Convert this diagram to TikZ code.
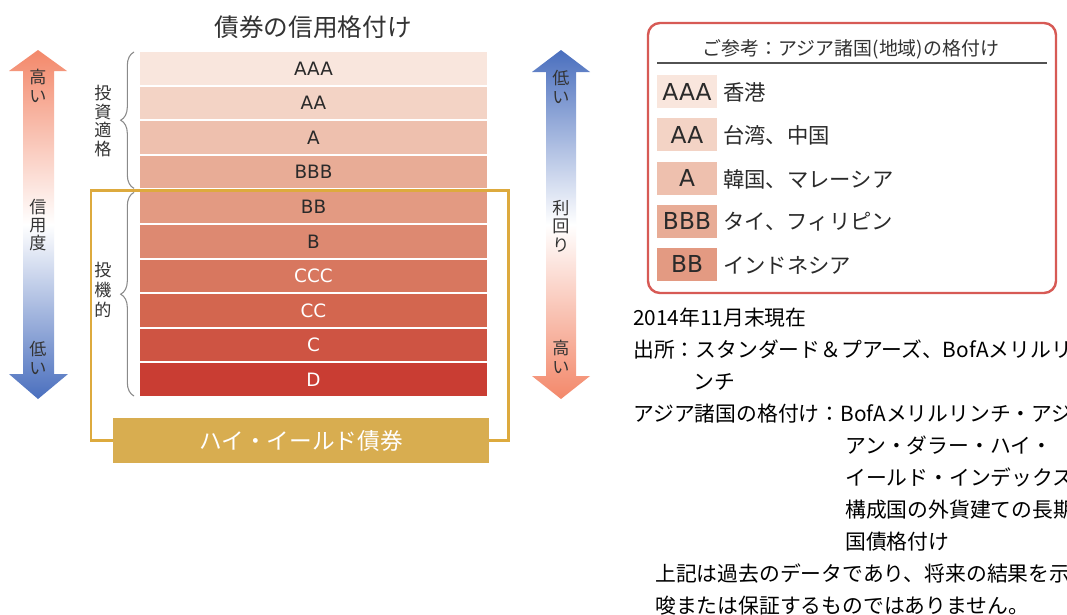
\documentclass[tikz,border=0pt]{standalone}
\usepackage{fontspec}
\setmainfont{DejaVu Sans}
\newfontfamily\jp{Noto Sans CJK JP}
\usetikzlibrary{decorations.pathreplacing}
\definecolor{cAAA}{HTML}{F9E6DD}
\definecolor{cAA}{HTML}{F3D3C5}
\definecolor{cA}{HTML}{EEC0AE}
\definecolor{cBBB}{HTML}{E8AC96}
\definecolor{cBB}{HTML}{E39A82}
\definecolor{cB}{HTML}{DD8971}
\definecolor{cCCC}{HTML}{D8775F}
\definecolor{cCC}{HTML}{D3664F}
\definecolor{cC}{HTML}{CE5443}
\definecolor{cD}{HTML}{C93D33}
\definecolor{txtdark}{HTML}{2A2A2A}
\definecolor{txtgray}{HTML}{333333}
\definecolor{orA}{HTML}{F3886A}
\definecolor{blA}{HTML}{4A6FBE}
\definecolor{goldline}{HTML}{DDAA3E}
\definecolor{goldfill}{HTML}{D8AD50}
\definecolor{legred}{HTML}{D75A55}
\definecolor{bracegray}{HTML}{8A8A8A}
\tikzset{
  ratingbar/.style={minimum width=260.25pt, minimum height=24.45pt, inner sep=0pt, outer sep=0pt,
    font=\fontsize{13.8pt}{16pt}\selectfont},
  vlab/.style={align=center, inner sep=0pt, text=txtgray, font=\jp\fontsize{12.8pt}{13.8pt}\selectfont},
  vlabwide/.style={align=center, inner sep=0pt, text=txtgray, font=\jp\fontsize{12.8pt}{15pt}\selectfont},
  bracedeco/.style={draw=bracegray, line width=0.8pt, decorate, decoration={brace, amplitude=10pt}},
  swatch/.style={minimum width=45pt, minimum height=24.75pt, inner sep=0pt, text=txtdark,
    font=\fontsize{17.5pt}{20pt}\selectfont},
  country/.style={anchor=west, inner sep=0pt, text=txtdark, font=\jp\fontsize{16pt}{18pt}\selectfont},
  note/.style={anchor=base west, inner sep=0pt, text=black, font=\jp\fontsize{15.6pt}{18pt}\selectfont},
}
\begin{document}
\begin{tikzpicture}[x=0.75pt,y=-0.75pt]
\useasboundingbox (0,0) rectangle (1067,614);
\clip (0,0) rectangle (1067,614);
\fill[white] (0,0) rectangle (1067,614);

% title
\node[inner sep=0pt, text=txtgray, font=\jp\fontsize{18.5pt}{20pt}\selectfont] (title) at (313,27) {債券の信用格付け};

% rating bars
\foreach \n/\c/\t [count=\i from 0] in {AAA/cAAA/txtdark, AA/cAA/txtdark, A/cA/txtdark, BBB/cBBB/txtdark, BB/cBB/txtdark, B/cB/txtdark, CCC/cCCC/white, CC/cCC/white, C/cC/white, D/cD/white}
  \node[ratingbar, fill=\c, text=\t] (\n) at (313.5,{52+\i*34.6+16.3}) {\n};

% braces
\draw[bracedeco] ([xshift=-4.5pt]BBB.south west) -- ([xshift=-4.5pt]AAA.north west);
\draw[bracedeco] ([xshift=-4.5pt]D.south west) -- ([xshift=-4.5pt,yshift=-1.5pt]BB.north west);
\node[vlab] (inv) at (103,121) {投\\資\\適\\格};
\node[vlabwide] (spec) at (103,290) {投\\機\\的};

% high yield box and frame
\node[fill=goldfill, minimum width=282pt, minimum height=33.75pt, inner sep=0pt, text=white,
  font=\jp\fontsize{17pt}{18pt}\selectfont] (hy) at (301,440.5) {ハイ・イールド債券};
\coordinate (ftl) at (91,190.5);
\coordinate (ftr) at (508.5,190.5);
\draw[goldline, line width=1.9pt] (hy.west) -| (ftl) -- (ftr) |- (hy.east);

% left arrow
\shade[top color=orA, bottom color=blA, middle color=white]
  (38,50) -- (67,71) -- (54,71) -- (54,374) -- (68,374) -- (38,399) -- (9,374) -- (23,374) -- (23,71) -- (9,71) -- cycle;
\node[vlab] (lhigh) at (38,86) {高\\い};
\node[vlab] (lcred) at (38,225) {信\\用\\度};
\node[vlab] (llow) at (38,358) {低\\い};

% right arrow
\shade[top color=blA, bottom color=orA, middle color=white]
  (561,50) -- (590,72) -- (576,72) -- (576,376) -- (590,376) -- (561,399) -- (532,376) -- (546,376) -- (546,72) -- (532,72) -- cycle;
\node[vlab] (rlow) at (561,87) {低\\い};
\node[vlab] (ryld) at (561,226) {利\\回\\り};
\node[vlab] (rhigh) at (561,357) {高\\い};

% legend
\draw[legred, line width=1.8pt, rounded corners=9pt] (648,23) rectangle (1056,293);
\node[inner sep=0pt, text=txtgray, font=\jp\fontsize{14.2pt}{16pt}\selectfont] (legtitle) at (851,49) {ご参考：アジア諸国(地域)の格付け};
\draw[txtgray!85, line width=1.2pt] (657,63) -- (1047,63);
\node[swatch, fill=cAAA] (sAAA) at (687,91.5) {AAA};
\node[swatch, fill=cAA] (sAA) at (687,134.5) {AA};
\node[swatch, fill=cA] (sA) at (687,178) {A};
\node[swatch, fill=cBBB] (sBBB) at (687,221) {BBB};
\node[swatch, fill=cBB] (sBB) at (687,264) {BB};
\node[country] (tAAA) at (723,92.5) {香港};
\node[country] (tAA) at (723,135.5) {台湾、中国};
\node[country] (tA) at (723,179) {韓国、マレーシア};
\node[country] (tBBB) at (723,222) {タイ、フィリピン};
\node[country] (tBB) at (723,265) {インドネシア};

% notes
\node[note] (n1) at (633,325.7) {2014年11月末現在};
\node[note] (n2) at (633,357.7) {出所：スタンダード＆プアーズ、BofAメリルリ};
\node[note] (n3) at (693,389.7) {ンチ};
\node[note] (n4) at (633,421.7) {アジア諸国の格付け：BofAメリルリンチ・アジ};
\node[note] (n5) at (845,453.7) {アン・ダラー・ハイ・};
\node[note] (n6) at (845,485.7) {イールド・インデックス};
\node[note] (n7) at (845,517.7) {構成国の外貨建ての長期};
\node[note] (n8) at (845,549.7) {国債格付け};
\node[note] (n9) at (655,581.7) {上記は過去のデータであり、将来の結果を示};
\node[note] (n10) at (655,613.7) {唆または保証するものではありません。};
\end{tikzpicture}
\end{document}
